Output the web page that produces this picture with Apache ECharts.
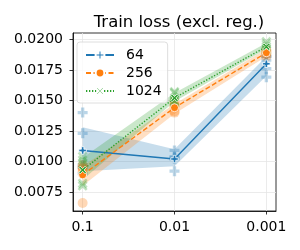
<!DOCTYPE html>
<html><head><meta charset="utf-8">
<script src="https://cdn.jsdelivr.net/npm/echarts@6/dist/echarts.min.js"></script>
<style>html,body{margin:0;padding:0;background:#fff}#c{width:300px;height:250px}</style>
</head><body><div id="c"></div>
<script>
// ---- data ----
const learningRates = [0.1, 0.01, 0.001];
const xLabels = ['0.1', '0.01', '0.001'];
const seriesNames = ['64', '256', '1024'];
const mean64 = [0.0109, 0.0102, 0.0180];
const mean256 = [0.0089, 0.0144, 0.0189];
const mean1024 = [0.0093, 0.0152, 0.0194];
const lo64 = [0.0092, 0.0096, 0.0170];
const hi64 = [0.0128, 0.0110, 0.0186];
const lo256 = [0.0080, 0.0139, 0.0186];
const hi256 = [0.0096, 0.0147, 0.0192];
const lo1024 = [0.0085, 0.0149, 0.0192];
const hi1024 = [0.0103, 0.0156, 0.0197];
const runs64 = [[0.0140, 0.0123, 0.0095, 0.0090, 0.0097], [0.0109, 0.0092, 0.0103, 0.0104, 0.0102], [0.0169, 0.0176, 0.0183, 0.0186, 0.0186]];
const runs256 = [[0.0066, 0.0092, 0.0094, 0.0095, 0.0097], [0.0140, 0.0141, 0.0145, 0.0146, 0.0149], [0.0186, 0.0188, 0.0189, 0.0190, 0.0191]];
const runs1024 = [[0.0104, 0.0101, 0.0098, 0.0082, 0.0080], [0.0157, 0.0156, 0.0150, 0.0148, 0.0149], [0.0198, 0.0196, 0.0194, 0.0192, 0.0191]];
const yTicks = [0.0075, 0.0100, 0.0125, 0.0150, 0.0175, 0.0200];

// ---- build ----
const FONT = "'DejaVu Sans', sans-serif";
const xs = learningRates.map(v => -Math.log10(v));
const xTicks = xs.slice();
const colors = ['#1f77b4', '#ff7f0e', '#2ca02c'];
const PLUS = 'path://M-1,-3 L1,-3 L1,-1 L3,-1 L3,1 L1,1 L1,3 L-1,3 L-1,1 L-3,1 L-3,-1 L-1,-1 Z';
const XMARK = 'path://M-3,-1.9 L-1.9,-3 L0,-1.1 L1.9,-3 L3,-1.9 L1.1,0 L3,1.9 L1.9,3 L0,1.1 L-1.9,3 L-3,1.9 L-1.1,0 Z';
const symbols = [PLUS, 'circle', XMARK];
const dashes = ['solid', [5, 2.5], [1.3, 1.7]];
const means = [mean64, mean256, mean1024];
const los = [lo64, lo256, lo1024];
const his = [hi64, hi256, hi1024];
const runs = [runs64, runs256, runs1024];

const series = [];
seriesNames.forEach((name, k) => {
  series.push({
    type: 'custom', name: name + ' band', silent: true, z: 1,
    data: xs.map((x, i) => [x, los[k][i], his[k][i]]),
    renderItem: (params, api) => {
      if (params.dataIndex !== 0) return null;
      const pts = [];
      for (let i = 0; i < xs.length; i++) pts.push(api.coord([xs[i], his[k][i]]));
      for (let i = xs.length - 1; i >= 0; i--) pts.push(api.coord([xs[i], los[k][i]]));
      return { type: 'polygon', shape: { points: pts }, style: { fill: colors[k], opacity: 0.25 } };
    }
  });
});
seriesNames.forEach((name, k) => {
  const d = [];
  runs[k].forEach((arr, i) => arr.forEach(v => d.push([xs[i], v])));
  series.push({
    type: 'scatter', name: name + ' runs', silent: true, z: 2,
    symbol: symbols[k], symbolSize: 10, data: d,
    itemStyle: { color: colors[k], opacity: 0.3 }
  });
});
seriesNames.forEach((name, k) => {
  series.push({
    type: 'line', name: name, z: 3,
    data: xs.map((x, i) => [x, means[k][i]]),
    symbol: symbols[k], symbolSize: k === 1 ? 8 : 7.5, showSymbol: true,
    lineStyle: { color: colors[k], width: 1.4, type: dashes[k] },
    itemStyle: { color: colors[k], borderColor: '#fff', borderWidth: 0.8 }
  });
});

const chart = echarts.init(document.getElementById('c'), null, { renderer: 'canvas' });
chart.setOption({
  animation: false,
  textStyle: { fontFamily: FONT },
  title: {
    text: 'Train loss (excl. reg.)', left: 174, top: 9, textAlign: 'center',
    textStyle: { fontFamily: FONT, fontSize: 16.5, fontWeight: 'normal', color: '#000' }
  },
  legend: {
    data: seriesNames, orient: 'vertical', left: 77, top: 42,
    padding: [6, 6, 5, 8], itemGap: 4, itemWidth: 28, itemHeight: 11,
    borderColor: '#d6d6d6', borderWidth: 0.8, borderRadius: 3,
    backgroundColor: 'rgba(255,255,255,0.8)',
    textStyle: { fontFamily: FONT, fontSize: 14, color: '#000', padding: [0, 0, 0, 7] }
  },
  grid: { left: 73, right: 24, top: 33, bottom: 39, show: true, borderColor: '#000', borderWidth: 0.8 },
  xAxis: {
    type: 'value', min: 0.895, max: 3.105,
    axisLine: { show: true, lineStyle: { color: '#000', width: 0.8 } },
    axisTick: { show: true, length: 3.5, customValues: xTicks, lineStyle: { color: '#000', width: 0.8 } },
    axisLabel: { customValues: xTicks, margin: 9, fontSize: 14, color: '#000', fontFamily: FONT,
      formatter: v => xLabels[xTicks.findIndex(t => Math.abs(t - v) < 1e-6)] },
    splitLine: { show: true, lineStyle: { color: '#e6e6e6', width: 0.8 } }
  },
  yAxis: {
    type: 'value', min: 0.00594, max: 0.02052,
    axisLine: { show: true, lineStyle: { color: '#000', width: 0.8 } },
    axisTick: { show: true, length: 3.5, customValues: yTicks, lineStyle: { color: '#000', width: 0.8 } },
    axisLabel: { customValues: yTicks, margin: 10, fontSize: 14, color: '#000', fontFamily: FONT,
      formatter: v => v.toFixed(4) },
    splitLine: { show: true, lineStyle: { color: '#e6e6e6', width: 0.8 } }
  },
  series: series
});
</script></body></html>
